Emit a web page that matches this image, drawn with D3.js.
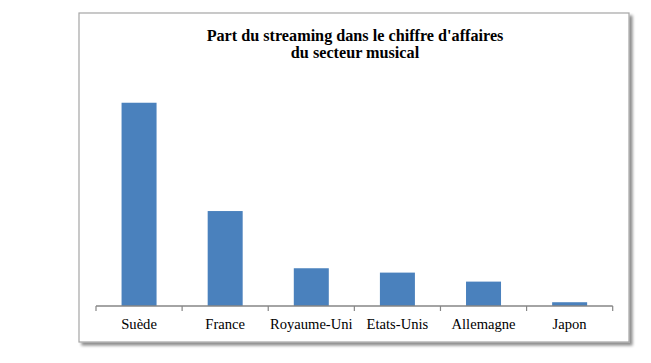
<!DOCTYPE html>
<html><head><meta charset="utf-8">
<script src="https://cdn.jsdelivr.net/npm/d3@7"></script>
<style>body{margin:0;background:#fff}svg{display:block}</style>
</head><body>
<svg id="c" width="651" height="363"></svg>
<script>
const categories = ["Suède","France","Royaume-Uni","Etats-Unis","Allemagne","Japon"];
const values = [70, 32.7, 13, 11.5, 8.4, 1.3];
const titleLines = ["Part du streaming dans le chiffre d'affaires","du secteur musical"];

const svg = d3.select("#c");
const defs = svg.append("defs");
const f = defs.append("filter").attr("id","sh").attr("x","-5%").attr("y","-5%").attr("width","115%").attr("height","115%");
f.append("feGaussianBlur").attr("in","SourceAlpha").attr("stdDeviation",1.5).attr("result","b");
f.append("feOffset").attr("in","b").attr("dx",2.5).attr("dy",2.5).attr("result","o");
f.append("feComponentTransfer").attr("in","o").attr("result","o2").append("feFuncA").attr("type","linear").attr("slope",0.45);
const m = f.append("feMerge"); m.append("feMergeNode").attr("in","o2"); m.append("feMergeNode").attr("in","SourceGraphic");

svg.append("rect").attr("x",79).attr("y",13).attr("width",550).attr("height",329)
  .attr("fill","#fff").attr("stroke","#a6a6a6").attr("stroke-width",1.2).attr("filter","url(#sh)");

const serif = "'Liberation Serif','DejaVu Serif',serif";
svg.append("g").selectAll("text").data(titleLines).join("text")
  .attr("x",355).attr("y",(d,i)=>40.5+i*17).attr("text-anchor","middle")
  .attr("font-family",serif).attr("font-weight","bold").attr("font-size",16.2).attr("fill","#000")
  .text(d=>d);

const x = d3.scaleBand().domain(categories).range([96,612.7]).padding(0);
const y = d3.scaleLinear().domain([0,80]).range([306,306-232.3]);
const bw = 35;

svg.append("g").selectAll("rect").data(categories).join("rect")
  .attr("x",d=>x(d)+x.bandwidth()/2-bw/2).attr("width",bw)
  .attr("y",(d,i)=>y(values[i])).attr("height",(d,i)=>y(0)-y(values[i]))
  .attr("fill","#4A81BD");

const ax = svg.append("g").attr("transform","translate(0,306)");
ax.append("line").attr("x1",96).attr("x2",612.7).attr("stroke","#868686").attr("stroke-width",1.5);
const ticks = categories.map(c=>x(c)).concat([x.range()[1]]);
ax.selectAll("line.t").data(ticks).join("line").attr("class","t")
  .attr("x1",d=>d).attr("x2",d=>d).attr("y1",0).attr("y2",5).attr("stroke","#868686").attr("stroke-width",1.2);
ax.selectAll("text").data(categories).join("text")
  .attr("x",d=>x(d)+x.bandwidth()/2).attr("y",22.5).attr("text-anchor","middle")
  .attr("font-family",serif).attr("font-size",14.6).attr("fill","#000").text(d=>d);
</script>
</body></html>
